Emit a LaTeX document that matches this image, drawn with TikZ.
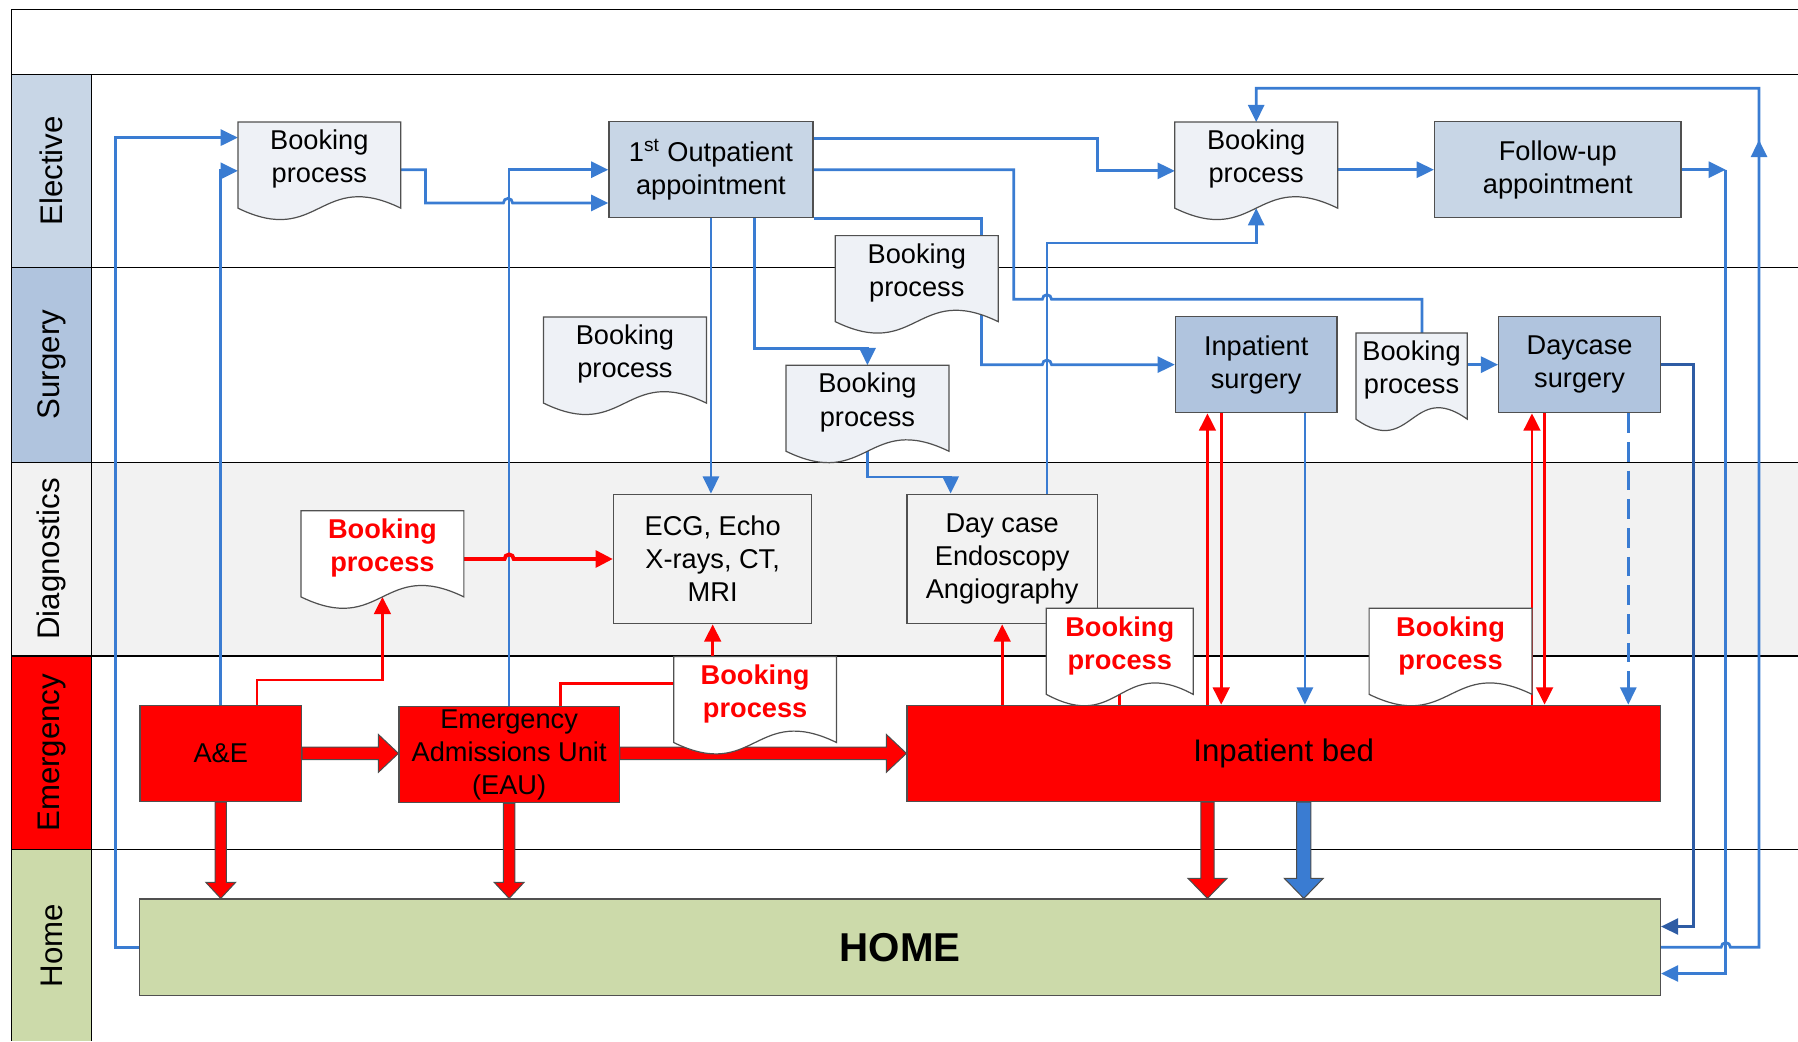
\documentclass[tikz,border=0pt]{standalone}
\usepackage{fontspec}
\setmainfont{Liberation Sans}
\usetikzlibrary{arrows.meta,calc}

\definecolor{laneElective}{RGB}{200,214,230}
\definecolor{laneSurgery}{RGB}{176,196,222}
\definecolor{laneDiag}{RGB}{242,242,242}
\definecolor{laneHome}{RGB}{204,218,170}
\definecolor{docFill}{RGB}{238,241,246}
\definecolor{flowBlue}{RGB}{58,124,210}
\definecolor{flowDarkBlue}{RGB}{46,92,164}
\definecolor{edgeGray}{RGB}{80,80,80}

\pgfdeclarelayer{lanes}
\pgfdeclarelayer{links}
\pgfsetlayers{lanes,links,main}

% document shape: flat top, wavy bottom
\makeatletter
\pgfdeclareshape{bookdoc}{%
  \inheritsavedanchors[from=rectangle]%
  \inheritanchorborder[from=rectangle]%
  \inheritanchor[from=rectangle]{center}%
  \inheritanchor[from=rectangle]{north}%
  \inheritanchor[from=rectangle]{south}%
  \inheritanchor[from=rectangle]{east}%
  \inheritanchor[from=rectangle]{west}%
  \inheritanchor[from=rectangle]{north east}%
  \inheritanchor[from=rectangle]{north west}%
  \inheritanchor[from=rectangle]{south east}%
  \inheritanchor[from=rectangle]{south west}%
  \backgroundpath{%
    \southwest \edef\docL{\the\pgf@x}\edef\docB{\the\pgf@y}%
    \northeast \edef\docR{\the\pgf@x}\edef\docT{\the\pgf@y}%
    \pgfpathmoveto{\pgfpoint{\docL}{\docT}}%
    \pgfpathlineto{\pgfpoint{\docR}{\docT}}%
    \pgfpathlineto{\pgfpoint{\docR}{\docB-2mm}}%
    \pgfpathcurveto{\pgfpoint{(\docL+\docR)/2}{\docB+4.9mm}}%
      {\pgfpoint{(\docL+\docR)/2}{\docB-8.9mm}}%
      {\pgfpoint{\docL}{\docB-2mm}}%
    \pgfpathclose
  }%
}
\makeatother

% block arrows: style, from, to, half shaft, half head, head length
\newcommand{\downblock}[6]{%
  \path[#1] let \p1=(#2), \p2=(#3) in
    (\x1-#4,\y1) -- (\x1-#4,\y2+#6) -- (\x1-#5,\y2+#6) -- (\x1,\y2)
    -- (\x1+#5,\y2+#6) -- (\x1+#4,\y2+#6) -- (\x1+#4,\y1) -- cycle;}
\newcommand{\rightblock}[6]{%
  \path[#1] let \p1=(#2), \p2=(#3) in
    (\x1,\y1+#4) -- (\x2-#6,\y1+#4) -- (\x2-#6,\y1+#5) -- (\x2,\y1)
    -- (\x2-#6,\y1-#5) -- (\x2-#6,\y1-#4) -- (\x1,\y1-#4) -- cycle;}

\begin{document}
\begin{tikzpicture}[
  x=0.2mm, y=-0.2mm,
  lanelabel/.style={rectangle, rotate=90, minimum height=14mm, inner sep=0pt,
    font=\fontsize{15.5pt}{18pt}\selectfont},
  laneline/.style={draw=black, line width=0.6pt},
  proc/.style={rectangle, draw=edgeGray, line width=0.6pt, inner sep=0pt,
    align=center, minimum width=28.2mm, minimum height=16.8mm,
    font=\fontsize{13.5pt}{16.4pt}\selectfont},
  docbox/.style={shape=bookdoc, draw=edgeGray, line width=0.6pt, fill=docFill,
    inner sep=0pt, align=center, minimum width=28.2mm, minimum height=12.8mm,
    font=\fontsize{13.5pt}{16.4pt}\selectfont},
  reddoc/.style={docbox, fill=white, text=red,
    font=\bfseries\fontsize{13.5pt}{16.4pt}\selectfont},
  emerg/.style={proc, fill=red},
  link/.style={draw=flowBlue, line width=1.35pt},
  barr/.style={link, -{Triangle[length=3mm, width=2.8mm]}},
  rlink/.style={draw=red, line width=1.35pt},
  rarr/.style={rlink, -{Triangle[length=3mm, width=2.9mm]}},
  redblock/.style={fill=red, draw=black!70, line width=0.5pt},
  blueblock/.style={fill=flowBlue, draw=black!70, line width=0.5pt}
]
\useasboundingbox (0,0) rectangle (1568,908);

% Lanes
\begin{pgfonlayer}{lanes}
\fill[laneDiag] (80,403) rectangle (1568,572);
\node[lanelabel, fill=laneElective, minimum width=33.6mm] (lnElective) at (45,149) {Elective};
\node[lanelabel, fill=laneSurgery, minimum width=34mm] (lnSurgery) at (45,318) {Surgery};
\node[lanelabel, fill=laneDiag, minimum width=33.8mm] (lnDiag) at (45,487.5) {Diagnostics};
\node[lanelabel, fill=red, minimum width=33.8mm] (lnEmerg) at (45,656.5) {Emergency};
\node[lanelabel, fill=laneHome, minimum width=33.4mm] (lnHome) at (45,824.5) {Home};
\foreach \ly in {8,65,233,403,572,741}
  \draw[laneline] (10,\ly) -- (1568,\ly);
\draw[laneline] (10,8) -- (10,908);
\draw[laneline] (80,65) -- (80,908);
\end{pgfonlayer}

% Elective
\node[docbox] (bkA) at (278.5,139) {Booking\\process};
\node[proc, fill=laneElective, minimum width=35.6mm] (op) at (620,148) {1\textsuperscript{st} Outpatient\\appointment};
\node[docbox] (bkE) at (1095.5,139) {Booking\\process};
\node[proc, fill=laneElective, minimum width=43mm] (fu) at (1358.5,148) {Follow-up\\appointment};

% Surgery
\node[docbox] (bkS1) at (799.5,238) {Booking\\process};
\node[docbox] (bkS2) at (545,309) {Booking\\process};
\node[docbox] (bkS3) at (756.5,351) {Booking\\process};
\node[proc, fill=laneSurgery] (ips) at (1095.5,318) {Inpatient\\surgery};
\node[docbox, minimum width=19.2mm] (bkS4) at (1231,323) {Booking\\process};
\node[proc, fill=laneSurgery] (dcs) at (1377.5,318) {Daycase\\surgery};

% Diagnostics
\node[reddoc] (bkD1) at (333.5,478) {Booking\\process};
\node[proc, fill=laneDiag, minimum width=34.6mm, minimum height=22.6mm] (ecg) at (621.5,487.5) {ECG, Echo\\X-rays, CT,\\MRI};
\node[proc, fill=laneDiag, minimum width=33.2mm, minimum height=22.6mm] (dce) at (874,487.5) {Day case\\Endoscopy\\Angiography};
\node[reddoc, minimum width=25.4mm] (bkD2) at (976.5,563) {Booking\\process};
\node[reddoc] (bkD3) at (1265,563) {Booking\\process};

% Emergency
\node[reddoc] (bkM1) at (658.5,605) {Booking\\process};
\node[emerg] (ae) at (192.5,657) {A\&E};
\node[emerg, minimum width=38.4mm] (eau) at (444,658) {Emergency\\Admissions Unit\\(EAU)};
\node[emerg, minimum width=131.4mm, font=\fontsize{15.5pt}{18pt}\selectfont] (bed) at (1119.5,657) {Inpatient bed};

% Home
\node[proc, fill=laneHome, minimum width=265.2mm, font=\bfseries\fontsize{20pt}{24pt}\selectfont] (home) at (785,826) {HOME};

\coordinate (fuOut) at (1505,148);
\coordinate (upMidA) at (1534,138);
\coordinate (upMidB) at (1534,122);

\begin{pgfonlayer}{links}
% blue flows
\draw[barr] (home.west) -| (101,120) -- (bkA.west |- 0,120);
\draw[barr] (ae.north) |- (bkA.west |- 0,149);
\draw[barr] (bkA.east |- 0,148) -- (371,148) |- (439,177)
  arc[start angle=180, end angle=0, radius=0.8mm] -- (op.west |- 0,177);
\draw[barr] (eau.north) |- (op.west);
\draw[barr] (op.east |- 0,121) -| (957,149) -- (bkE.west |- 0,149);
\draw[link] (op.east) -| (884,261) -- (909,261)
  arc[start angle=180, end angle=0, radius=0.8mm] -- (1240,261) -- (bkS4.north -| 1240,0);
\draw[link] (op.south east) -| (bkS1.north -| 856,0);
\draw[barr] (bkS1.south -| 856,0) |- (909,318)
  arc[start angle=180, end angle=0, radius=0.8mm] -- (ips.west);
\draw[barr] (op.south) -- (op.south |- ecg.north);
\draw[barr] (op.south -| 658,0) |- (bkS3.north |- 0,304) -- (bkS3.north);
\draw[barr] (bkS3.south) |- (829,416) -- (dce.north -| 829,0);
\draw[barr] (dce.north -| 913,0) |- (bkE.south |- 0,212) -- ([yshift=-2mm]bkE.south);
\draw[barr] (bkE.east |- fu.west) -- (fu.west);
\draw[barr] (fu.east) -- (fuOut);
\draw[barr] (fuOut) |- (home.east |- 0,849);
\draw[barr] (home.east) -- (1501,826)
  arc[start angle=180, end angle=0, radius=0.8mm] -- (1534,826) -- (1534,77) -| (bkE.north);
\draw[barr] (upMidA) -- (upMidB);
\draw[barr, draw=flowDarkBlue] (dcs.east) -| (1477,808) -- (home.east |- 0,808);
\draw[barr] (ips.south -| 1138,0) -- (bed.north -| 1138,0);
\draw[barr] (bkS4.east |- dcs.west) -- (dcs.west);
\draw[barr, dash pattern=on 3.4mm off 1.6mm] (dcs.south -| 1420,0) -- (bed.north -| 1420,0);

% red flows
\draw[rarr] (ae.north -| 224,0) |- (bkD1.south |- 0,593) -- ([yshift=-2mm]bkD1.south);
\draw[rarr, line width=1.9pt] (bkD1.east |- ecg.west) -- (440,487.5)
  arc[start angle=180, end angle=0, radius=0.8mm] -- (ecg.west);
\draw[rlink] (eau.north -| 489,0) |- (bkM1.west |- 0,596);
\draw[rarr] (bkM1.north -| ecg.south) -- (ecg.south);
\draw[rarr] (bed.north -| dce.south) -- (dce.south);
\draw[rlink] (bkD2.south) -- (bed.north -| bkD2.south);
\draw[rarr] (bed.north -| 1053,0) -- (ips.south -| 1053,0);
\draw[rarr] (ips.south -| 1065,0) -- (bed.north -| 1065,0);
\draw[rarr] (bed.north -| 1336,0) -- (dcs.south -| 1336,0);
\draw[rarr] (dcs.south -| 1347,0) -- (bed.north -| 1347,0);

% big arrows
\rightblock{redblock}{ae.east}{eau.west |- ae.east}{1.1mm}{3.3mm}{3.5mm}
\rightblock{redblock}{eau.east |- bed.west}{bed.west}{1.1mm}{3.3mm}{3.5mm}
\downblock{redblock}{ae.south}{ae.south |- home.north}{1mm}{2.6mm}{2.8mm}
\downblock{redblock}{eau.south}{eau.south |- home.north}{1mm}{2.6mm}{2.8mm}
\downblock{redblock}{bed.south -| 1053,0}{home.north -| 1053,0}{1.15mm}{3.4mm}{3.5mm}
\downblock{blueblock}{bed.south -| 1137,0}{home.north -| 1137,0}{1.25mm}{3.4mm}{3.5mm}
\end{pgfonlayer}

\end{tikzpicture}
\end{document}
